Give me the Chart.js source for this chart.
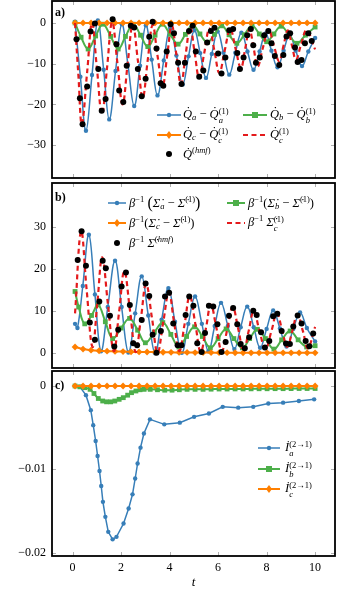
<!DOCTYPE html>
<html>
<head>
<meta charset="utf-8">
<script src="https://cdn.jsdelivr.net/npm/chart.js@4.4.0/dist/chart.umd.min.js"></script>
<style>
  html, body { margin: 0; padding: 0; background: #fff; }
  #wrap { position: relative; width: 340px; height: 590px; overflow: hidden; font-family: "Liberation Serif", "DejaVu Serif", serif; color: #000; }
  .box { position: absolute; left: 0; width: 340px; }
  .lab { position: absolute; font-weight: bold; font-size: 12px; }
  .txt { position: absolute; font-size: 12.5px; white-space: nowrap; line-height: 1; transform: translateY(-50%); }
  .txt sup { font-size: 8.5px; vertical-align: 5px; line-height: 0; }
  .txt sub { font-size: 8.5px; vertical-align: -2px; line-height: 0; }
  .ss { display: inline-flex; flex-direction: column; vertical-align: 4px; font-size: 8.5px; line-height: 8.5px; }
  .big { font-size: 16px; vertical-align: -1px; }
  svg.smp { position: absolute; overflow: visible; }
</style>
</head>
<body>
<div id="wrap">
  <div class="box" style="top:0;height:181px"><canvas id="ca"></canvas></div>
  <div class="box" style="top:181px;height:189px"><canvas id="cb"></canvas></div>
  <div class="box" style="top:370px;height:220px"><canvas id="cc"></canvas></div>

  <div class="lab" style="left:55px;top:5px">a)</div>
  <div class="lab" style="left:55px;top:190px">b)</div>
  <div class="lab" style="left:55px;top:378px">c)</div>

  <!-- legend a -->
  <svg class="smp" style="left:157px;top:110px" width="24" height="10"><line x1="0" y1="5" x2="24" y2="5" stroke="#377eb8" stroke-width="1.5"/><circle cx="12" cy="5" r="2.2" fill="#377eb8"/></svg>
  <div class="txt" style="left:183px;top:115px"><i>Q̇</i><sub><i>a</i></sub> − <i>Q̇</i><span class="ss"><span>(1)</span><span><i>a</i></span></span></div>
  <svg class="smp" style="left:243px;top:110px" width="24" height="10"><line x1="0" y1="5" x2="24" y2="5" stroke="#4daf4a" stroke-width="2"/><rect x="9" y="2" width="6" height="6" fill="#4daf4a"/></svg>
  <div class="txt" style="left:270px;top:115px"><i>Q̇</i><sub><i>b</i></sub> − <i>Q̇</i><span class="ss"><span>(1)</span><span><i>b</i></span></span></div>
  <svg class="smp" style="left:157px;top:130px" width="24" height="10"><line x1="0" y1="5" x2="24" y2="5" stroke="#ff7f00" stroke-width="2"/><polygon points="12,1 15,5 12,9 9,5" fill="#ff7f00"/></svg>
  <div class="txt" style="left:183px;top:135px"><i>Q̇</i><sub><i>c</i></sub> − <i>Q̇</i><span class="ss"><span>(1)</span><span><i>c</i></span></span></div>
  <svg class="smp" style="left:243px;top:130px" width="24" height="10"><line x1="0" y1="5" x2="24" y2="5" stroke="#e41a1c" stroke-width="2.2" stroke-dasharray="5 3.5"/></svg>
  <div class="txt" style="left:270px;top:135px"><i>Q̇</i><span class="ss"><span>(1)</span><span><i>c</i></span></span></div>
  <svg class="smp" style="left:157px;top:149px" width="24" height="10"><circle cx="12" cy="5" r="3" fill="#000"/></svg>
  <div class="txt" style="left:183px;top:154px"><i>Q̇</i><sup>(<i>hmf</i>)</sup></div>

  <!-- legend b -->
  <svg class="smp" style="left:108px;top:198px" width="18" height="10"><line x1="0" y1="5" x2="18" y2="5" stroke="#377eb8" stroke-width="1.5"/><circle cx="9" cy="5" r="2.2" fill="#377eb8"/></svg>
  <div class="txt" style="left:129px;top:203px"><i>β</i><sup>−1</sup> <span class="big">(</span><i>Σ̇</i><sub><i>a</i></sub> − <i>Σ̇</i><sup>(1)</sup><span class="big">)</span></div>
  <svg class="smp" style="left:227px;top:198px" width="18" height="10"><line x1="0" y1="5" x2="18" y2="5" stroke="#4daf4a" stroke-width="2"/><rect x="6" y="2" width="6" height="6" fill="#4daf4a"/></svg>
  <div class="txt" style="left:248px;top:203px"><i>β</i><sup>−1</sup>(<i>Σ̇</i><sub><i>b</i></sub> − <i>Σ̇</i><sup>(1)</sup>)</div>
  <svg class="smp" style="left:108px;top:218px" width="18" height="10"><line x1="0" y1="5" x2="18" y2="5" stroke="#ff7f00" stroke-width="2"/><polygon points="9,1 12,5 9,9 6,5" fill="#ff7f00"/></svg>
  <div class="txt" style="left:129px;top:223px"><i>β</i><sup>−1</sup>(<i>Σ̇</i><sub><i>c</i></sub> − <i>Σ̇</i><sup>(1)</sup>)</div>
  <svg class="smp" style="left:227px;top:218px" width="18" height="10"><line x1="0" y1="5" x2="18" y2="5" stroke="#e41a1c" stroke-width="2.2" stroke-dasharray="5 3.5"/></svg>
  <div class="txt" style="left:248px;top:223px"><i>β</i><sup>−1</sup> <i>Σ̇</i><span class="ss"><span>(1)</span><span><i>c</i></span></span></div>
  <svg class="smp" style="left:108px;top:238px" width="18" height="10"><circle cx="9" cy="5" r="3" fill="#000"/></svg>
  <div class="txt" style="left:129px;top:243px"><i>β</i><sup>−1</sup> <i>Σ̇</i><sup>(<i>hmf</i>)</sup></div>

  <!-- legend c -->
  <svg class="smp" style="left:258px;top:443px" width="22" height="10"><line x1="0" y1="5" x2="22" y2="5" stroke="#377eb8" stroke-width="1.5"/><circle cx="11" cy="5" r="2.2" fill="#377eb8"/></svg>
  <div class="txt" style="left:285px;top:448px"><i>İ</i><span class="ss"><span>(2→1)</span><span><i>a</i></span></span></div>
  <svg class="smp" style="left:258px;top:464px" width="22" height="10"><line x1="0" y1="5" x2="22" y2="5" stroke="#4daf4a" stroke-width="2"/><rect x="8" y="2" width="6" height="6" fill="#4daf4a"/></svg>
  <div class="txt" style="left:285px;top:469px"><i>İ</i><span class="ss"><span>(2→1)</span><span><i>b</i></span></span></div>
  <svg class="smp" style="left:258px;top:484px" width="22" height="10"><line x1="0" y1="5" x2="22" y2="5" stroke="#ff7f00" stroke-width="2"/><polygon points="11,1 14,5 11,9 8,5" fill="#ff7f00"/></svg>
  <div class="txt" style="left:285px;top:489px"><i>İ</i><span class="ss"><span>(2→1)</span><span><i>c</i></span></span></div>
</div>

<script>
// ---- data ----
const xTicks = [0, 2, 4, 6, 8, 10];
const yTicksA = [0, -10, -20, -30];
const yTicksB = [0, 10, 20, 30];
const yTicksC = [0, -0.01, -0.02];

// shared marker grid of the flat curves
const tFlat = [0.1, 0.43, 0.76, 1.09, 1.42, 1.75, 2.08, 2.41, 2.74, 3.07, 3.4, 3.73, 4.06, 4.39, 4.72, 5.05, 5.38, 5.71, 6.04, 6.37, 6.7, 7.03, 7.36, 7.69, 8.02, 8.35, 8.68, 9.01, 9.34, 9.67, 10.0];

// panel a
const tBlueA = [0.1, 0.32, 0.55, 0.8, 1.04, 1.28, 1.51, 1.77, 2.03, 2.28, 2.54, 2.78, 3.02, 3.26, 3.5, 3.76, 4.02, 4.28, 4.54, 4.78, 5.02, 5.26, 5.5, 5.74, 5.98, 6.22, 6.46, 6.71, 6.96, 7.21, 7.46, 7.71, 7.96, 8.2, 8.45, 8.7, 8.95, 9.2, 9.46, 9.72, 10.0];
const blueA = [0.3, -13.2, -26.5, -12.8, 0.6, -11.5, -23.7, -11.8, -0.3, -10.2, -20.4, -10.5, -0.6, -9.0, -17.8, -9.2, -1.2, -8.0, -15.1, -8.2, -1.8, -7.4, -13.5, -7.6, -2.1, -7.3, -12.7, -7.3, -2.4, -7.0, -11.5, -7.0, -2.6, -6.8, -10.9, -6.8, -2.9, -6.8, -10.6, -7.0, -3.7];

const tGreenA = [0.1, 0.35, 0.64, 0.95, 1.25, 1.57, 1.88, 2.18, 2.5, 2.8, 3.1, 3.4, 3.7, 4.02, 4.35, 4.65, 4.95, 5.25, 5.55, 5.85, 6.15, 6.45, 6.77, 7.08, 7.4, 7.7, 8.0, 8.3, 8.6, 8.92, 9.25, 9.6, 10.0];
const greenA = [0, -3.5, -6.4, -3.2, -0.3, -3.3, -6.4, -3.3, -0.3, -3, -5.8, -3, -0.3, -2.8, -5.2, -2.8, -0.5, -2.7, -4.8, -2.8, -0.7, -2.9, -5.0, -2.9, -0.7, -2.7, -4.6, -2.7, -0.8, -2.9, -5.0, -3, -1.0];

const orangeA = [0, 0, 0, 0, 0, 0, 0, 0, 0, 0, 0, 0, 0, 0, 0, 0, 0, 0, 0, 0, 0, 0, 0, 0, 0, 0, 0, 0, 0, 0, 0];

const tRedA = [0.1, 0.24, 0.38, 0.6, 0.8, 1.0, 1.21, 1.42, 1.63, 1.85, 2.06, 2.27, 2.48, 2.69, 2.89, 3.1, 3.3, 3.5, 3.71, 3.9, 4.09, 4.28, 4.47, 4.66, 4.85, 5.03, 5.22, 5.43, 5.64, 5.85, 6.05, 6.27, 6.5, 6.72, 6.94, 7.12, 7.29, 7.46, 7.63, 7.85, 8.08, 8.3, 8.52, 8.7, 8.87, 9.04, 9.21, 9.42, 9.65, 10.0];
const redA = [0, -13, -24.9, -12, 0, -11, -22.4, -11, 0.2, -10, -20, -10, -0.4, -9.2, -18.4, -9, -0.5, -8, -15.5, -8, -0.6, -7.8, -15.1, -7.8, -1, -7.2, -13.5, -7.3, -1.4, -6.9, -12.3, -6.8, -1.5, -6.3, -11.1, -6.2, -1.5, -6.0, -10.7, -6.0, -1.6, -5.6, -9.4, -5.5, -1.8, -5.4, -9.0, -5.3, -1.8, -6.5];

const tHmfA = [0.16, 0.3, 0.41, 0.6, 0.74, 0.92, 1.06, 1.2, 1.36, 1.65, 1.81, 1.92, 2.09, 2.23, 2.4, 2.54, 2.69, 2.85, 3.01, 3.16, 3.3, 3.46, 3.63, 3.74, 3.88, 4.04, 4.18, 4.35, 4.49, 4.63, 4.8, 4.95, 5.08, 5.22, 5.39, 5.55, 5.7, 5.85, 6.0, 6.14, 6.3, 6.46, 6.62, 6.79, 6.9, 7.05, 7.2, 7.35, 7.45, 7.56, 7.72, 7.9, 8.07, 8.2, 8.34, 8.52, 8.69, 8.82, 8.97, 9.17, 9.28, 9.44, 9.58, 9.72, 9.86];
const hmfA = [-4.0, -18.5, -24.9, -15.6, -2.1, -0.1, -11.3, -21.6, -18.7, 0.9, -5.2, -16.6, -19.4, -10.5, -0.7, -1.1, -11.3, -18, -13.7, -3.4, 0.3, -6.3, -14.8, -15.4, -7, -0.3, -2.5, -9.8, -15, -9.8, -2, -0.7, -7, -13.2, -11.7, -4.8, -2, -1.2, -7.5, -12.4, -8.5, -1.8, -1.5, -7.4, -11.3, -8.5, -3, -1.5, -5.5, -9.8, -8.5, -3, -2.0, -5, -8.1, -10.3, -7.9, -3.3, -2.5, -6, -9.6, -9.1, -5, -2.5, -4.4];

// panel b
const tBlueB = [0.1, 0.2, 0.42, 0.67, 0.92, 1.17, 1.45, 1.75, 2.02, 2.3, 2.58, 2.85, 3.12, 3.4, 3.67, 3.95, 4.22, 4.5, 4.77, 5.05, 5.33, 5.6, 5.86, 6.12, 6.4, 6.67, 6.93, 7.2, 7.47, 7.73, 8.0, 8.27, 8.55, 8.82, 9.1, 9.38, 9.66, 10.0];
const blueB = [7.0, 6.0, 16, 28.2, 14, 0.5, 11, 22, 11, 0.2, 9.5, 18.3, 9, 0, 8, 15.5, 7.5, 0.1, 7, 13.5, 7, 0.5, 6.5, 12, 6.5, 1, 6.2, 11.1, 6.2, 1.3, 5.8, 10.2, 5.9, 1.6, 5.8, 9.7, 6, 2.8];

const tGreenB = [0.1, 0.25, 0.5, 0.78, 1.05, 1.35, 1.65, 2.0, 2.35, 2.68, 3.0, 3.37, 3.72, 4.05, 4.38, 4.7, 5.03, 5.35, 5.68, 6.0, 6.33, 6.65, 7.0, 7.3, 7.62, 7.95, 8.3, 8.62, 8.97, 9.3, 9.65, 10.0];
const greenB = [14.7, 11, 7.0, 9, 11.5, 7.5, 3.5, 6, 8.3, 5.5, 2.5, 5, 7.3, 4.5, 1.5, 4, 6.3, 4, 1.3, 3.5, 5.8, 3.5, 1.3, 3.5, 5.7, 3.5, 1.0, 3.2, 5.3, 3.2, 1.5, 1.8];

const orangeB = [1.5, 1.0, 0.75, 0.6, 0.5, 0.45, 0.4, 0.35, 0.32, 0.3, 0.28, 0.25, 0.22, 0.2, 0.2, 0.18, 0.17, 0.16, 0.15, 0.14, 0.13, 0.12, 0.12, 0.11, 0.1, 0.1, 0.1, 0.1, 0.1, 0.1, 0.1];

const tRedB = [0.1, 0.35, 0.58, 0.82, 1.02, 1.22, 1.46, 1.7, 1.92, 2.13, 2.37, 2.6, 2.82, 3.03, 3.27, 3.5, 3.74, 3.97, 4.18, 4.4, 4.62, 4.83, 5.06, 5.28, 5.5, 5.7, 5.93, 6.15, 6.38, 6.6, 6.83, 7.05, 7.26, 7.47, 7.7, 7.95, 8.2, 8.42, 8.64, 8.85, 9.06, 9.27, 9.5, 9.7, 10.0];
const redB = [9.5, 29, 15, 1.5, 12, 22.8, 11.5, 0.5, 10, 19.5, 10, 0.3, 8.5, 16.5, 8.5, 0.1, 7.5, 14.5, 7.5, 0.5, 7, 13.6, 7, 0.3, 6, 11.6, 6, 0.5, 5.8, 11, 5.8, 0.5, 5.3, 10, 5.5, 1, 5.3, 9.5, 5.5, 1.5, 5.3, 9.2, 5.2, 1.2, 6.3];

const tHmfB = [0.21, 0.37, 0.55, 0.71, 0.92, 1.1, 1.24, 1.37, 1.54, 1.72, 1.88, 2.02, 2.2, 2.36, 2.5, 2.66, 2.85, 3.01, 3.16, 3.3, 3.46, 3.64, 3.81, 3.98, 4.15, 4.33, 4.49, 4.66, 4.81, 4.98, 5.14, 5.32, 5.46, 5.62, 5.8, 5.97, 6.14, 6.31, 6.45, 6.62, 6.79, 6.93, 7.1, 7.28, 7.45, 7.59, 7.77, 7.93, 8.11, 8.27, 8.44, 8.62, 8.8, 8.96, 9.1, 9.28, 9.44, 9.61, 9.76, 9.92];
const hmfB = [22.2, 29, 20.8, 7.3, 3.2, 12.3, 22, 20.2, 8.9, 1.6, 5.6, 15.9, 19.2, 11.5, 2.4, 1.9, 7.9, 16.6, 13.6, 4.4, 0.1, 5.3, 13.5, 14.4, 7.1, 1.9, 1.9, 9.1, 13.5, 11.3, 2.4, 0.3, 4.8, 11.3, 11.1, 6.9, 0.3, 2.7, 8.9, 10.8, 6.9, 2.2, 1.2, 3.8, 10.1, 9.1, 5.0, 1.4, 2.9, 8.8, 9.4, 5.3, 2.3, 2.2, 6.4, 9.0, 7.1, 2.9, 1.7, 4.7];

// panel c
const tBlueC = [0.1, 0.3, 0.55, 0.75, 0.85, 0.95, 1.03, 1.11, 1.18, 1.25, 1.35, 1.47, 1.65, 1.81, 2.1, 2.31, 2.47, 2.58, 2.68, 2.8, 2.94, 3.19, 3.78, 4.42, 5.01, 5.62, 6.19, 6.83, 7.45, 8.07, 8.68, 9.33, 9.96];
const blueC = [0, -0.0001, -0.0011, -0.0029, -0.0047, -0.0066, -0.0084, -0.0102, -0.012, -0.0139, -0.0157, -0.0175, -0.0184, -0.0181, -0.0165, -0.0147, -0.013, -0.0111, -0.0093, -0.0074, -0.0057, -0.004, -0.0046, -0.0044, -0.0037, -0.0033, -0.0025, -0.0026, -0.0025, -0.0021, -0.002, -0.0018, -0.0016];

const tGreenC = [0.1, 0.3, 0.5, 0.72, 0.88, 1.06, 1.24, 1.4, 1.57, 1.74, 1.92, 2.09, 2.27, 2.43, 2.61, 2.78, 2.95, 3.2, 3.5, 3.8, 4.1, 4.4, 4.72, 5.05, 5.38, 5.71, 6.04, 6.37, 6.7, 7.03, 7.36, 7.69, 8.02, 8.35, 8.68, 9.01, 9.34, 9.67, 10.0];
const greenC = [0, -0.0001, -0.0002, -0.0004, -0.0009, -0.0015, -0.0018, -0.0019, -0.0019, -0.0018, -0.0016, -0.0014, -0.0011, -0.0008, -0.0006, -0.00045, -0.0004, -0.0004, -0.00045, -0.0005, -0.0005, -0.00045, -0.0004, -0.0004, -0.0004, -0.00038, -0.00036, -0.00036, -0.00035, -0.00035, -0.00034, -0.00033, -0.00033, -0.00032, -0.00032, -0.00031, -0.0003, -0.0003, -0.0003];

const orangeC = [0, 0, 0, 0, 0, 0, 0, 0, 0, 0, 0, 0, 0, 0, 0, 0, 0, 0, 0, 0, 0, 0, 0, 0, 0, 0, 0, 0, 0, 0, 0];

// ---- drawing ----
const FONT = '"Liberation Serif", "DejaVu Serif", serif';
const BLUE = '#377eb8', GREEN = '#4daf4a', ORANGE = '#ff7f00', RED = '#e41a1c';

const pts = (t, v) => t.map((x, i) => ({x, y: v[i]}));

const frame = {
  id: 'frame',
  afterDraw(chart, args, opts) {
    const {ctx, chartArea: a, scales} = chart;
    ctx.save();
    ctx.strokeStyle = '#9a9a9a';
    ctx.lineWidth = 0.8;
    ctx.beginPath();
    opts.yTicks.forEach(v => {
      const y = Math.round(scales.y.getPixelForValue(v)) + 0.5;
      ctx.moveTo(a.left, y); ctx.lineTo(a.left + 4, y);
      ctx.moveTo(a.right, y); ctx.lineTo(a.right - 4, y);
    });
    xTicks.forEach(v => {
      const x = Math.round(scales.x.getPixelForValue(v)) + 0.5;
      ctx.moveTo(x, a.top); ctx.lineTo(x, a.top + 4);
      ctx.moveTo(x, a.bottom); ctx.lineTo(x, a.bottom - 4);
    });
    ctx.stroke();
    ctx.strokeStyle = '#000';
    ctx.lineWidth = 1.8;
    ctx.strokeRect(a.left, a.top, a.right - a.left, a.bottom - a.top);
    ctx.restore();
  }
};

function lineSet(t, v, color, o) {
  return Object.assign({
    data: pts(t, v), borderColor: color, backgroundColor: color, pointBorderColor: color,
    borderWidth: 1.5, pointRadius: 2.2, pointBorderWidth: 0, tension: 0.4, fill: false
  }, o || {});
}

function panel(id, datasets, yMin, yMax, yTicks, pad, showX) {
  return new Chart(document.getElementById(id), {
    type: 'line',
    data: {datasets},
    options: {
      responsive: true, maintainAspectRatio: false, animation: false, devicePixelRatio: 1,
      layout: {padding: pad, autoPadding: false},
      plugins: {legend: {display: false}, tooltip: {enabled: false}, frame: {yTicks}},
      scales: {
        x: {
          type: 'linear', min: -0.85, max: 10.82, display: showX,
          grid: {display: false, drawTicks: false}, border: {display: false},
          afterBuildTicks: s => { s.ticks = xTicks.map(v => ({value: v})); },
          ticks: {color: '#000', padding: 5, maxRotation: 0, font: {family: FONT, size: 12}},
          title: {display: showX, text: 't', color: '#000', padding: 0, font: {family: FONT, size: 13, style: 'italic'}},
          afterFit: s => { s.height = showX ? 34 : 0; s.paddingLeft = 0; s.paddingRight = 0; }
        },
        y: {
          min: yMin, max: yMax,
          grid: {display: false, drawTicks: false}, border: {display: false},
          afterBuildTicks: s => { s.ticks = yTicks.map(v => ({value: v})); },
          ticks: {color: '#000', padding: 6, font: {family: FONT, size: 12},
                  callback: v => String(v).replace('-', '\u2212')},
          afterFit: s => { s.width = 52; s.paddingTop = 0; s.paddingBottom = 0; }
        }
      }
    },
    plugins: [frame]
  });
}

panel('ca', [
  {data: pts(tHmfA, hmfA), showLine: false, pointRadius: 3, pointBorderWidth: 0, backgroundColor: '#000', borderColor: '#000'},
  lineSet(tRedA, redA, RED, {pointRadius: 0, borderWidth: 2.2, borderDash: [5, 3.5]}),
  lineSet(tFlat, orangeA, ORANGE, {borderWidth: 2, pointStyle: 'rectRot', pointRadius: 3.4}),
  lineSet(tGreenA, greenA, GREEN, {borderWidth: 2, pointStyle: 'rect', pointRadius: 3.4}),
  lineSet(tBlueA, blueA, BLUE)
], -38.1, 5.4, yTicksA, {top: 1, bottom: 3, left: 0, right: 5}, false);

panel('cb', [
  {data: pts(tHmfB, hmfB), showLine: false, pointRadius: 3, pointBorderWidth: 0, backgroundColor: '#000', borderColor: '#000'},
  lineSet(tRedB, redB, RED, {pointRadius: 0, borderWidth: 2.2, borderDash: [5, 3.5]}),
  lineSet(tFlat, orangeB, ORANGE, {borderWidth: 2, pointStyle: 'rectRot', pointRadius: 3.4}),
  lineSet(tGreenB, greenB, GREEN, {borderWidth: 2, pointStyle: 'rect', pointRadius: 3.4}),
  lineSet(tBlueB, blueB, BLUE)
], -3.5, 40.5, yTicksB, {top: 2, bottom: 2, left: 0, right: 5}, false);

panel('cc', [
  lineSet(tFlat, orangeC, ORANGE, {borderWidth: 2, pointStyle: 'rectRot', pointRadius: 3.4, tension: 0}),
  lineSet(tGreenC, greenC, GREEN, {borderWidth: 2, pointStyle: 'rect', pointRadius: 3.4, tension: 0.3}),
  lineSet(tBlueC, blueC, BLUE, {tension: 0})
], -0.0204, 0.0018, yTicksC, {top: 1, bottom: 0, left: 0, right: 5}, true);
</script>
</body>
</html>
